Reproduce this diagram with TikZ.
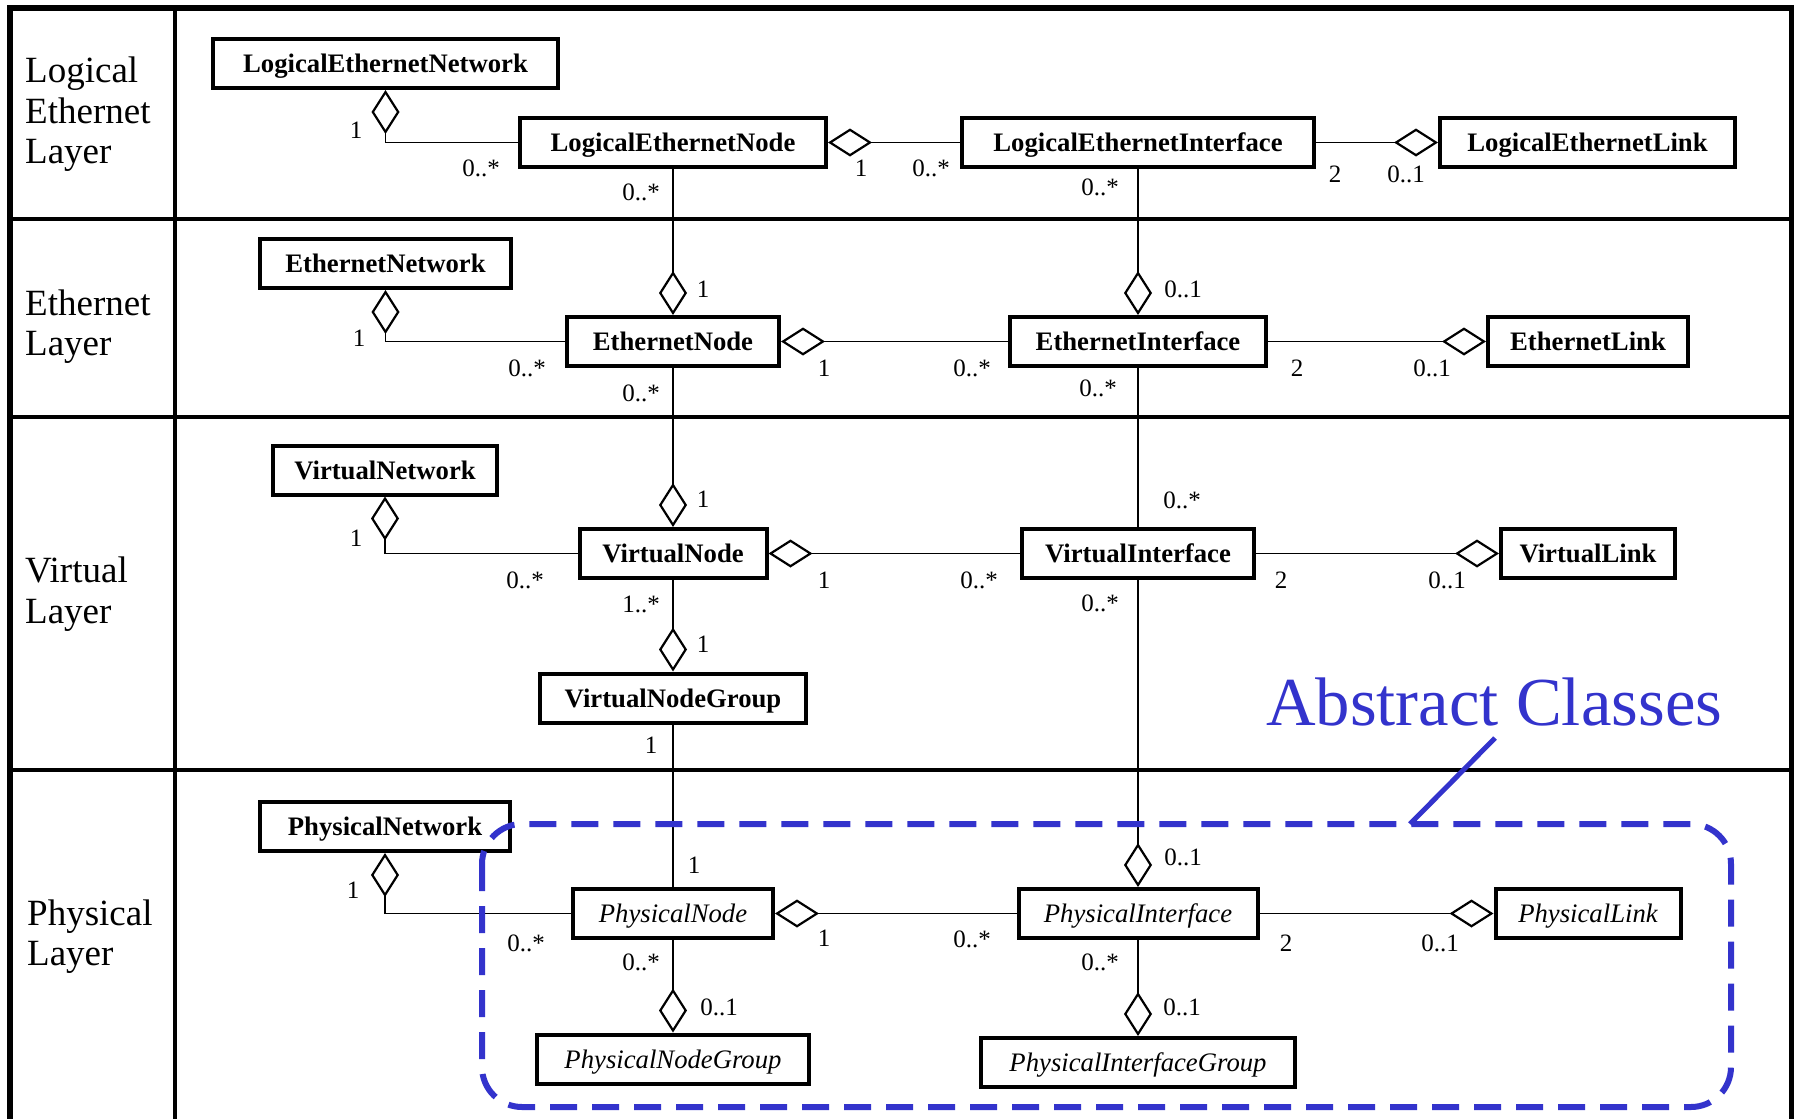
\documentclass[tikz,border=0pt]{standalone}
\usepackage{fontspec}
\setmainfont{Liberation Serif}
\usetikzlibrary{arrows.meta}
\definecolor{absblue}{RGB}{51,51,204}
\newcommand\clsfont{\fontsize{26.7}{30}\selectfont\bfseries}
\newcommand\absfont{\fontsize{26.7}{30}\selectfont\itshape}
\newcommand\multfont{\fontsize{25}{28}\selectfont}
\newcommand\layerfont{\fontsize{37}{41}\selectfont}
\begin{document}
\begin{tikzpicture}[x=1pt,y=-1pt,
  cls/.style={draw, line width=4pt, fill=white, minimum height=49pt, inner sep=0pt,
    text height=18pt, text depth=0pt, font=\clsfont},
  abscls/.style={cls, font=\absfont},
  mult/.style={font=\multfont, inner sep=0pt},
  layer/.style={font=\layerfont, anchor=base west, inner sep=0pt},
  frame/.style={line width=4pt},
  assoc/.style={line width=1.8pt},
  agg/.style={assoc, {Diamond[length=44pt,width=28pt,fill=white,line width=2.2pt]}-},
  abstractbox/.style={draw=absblue, line width=6pt, dash pattern=on 27pt off 15pt, rounded corners=40pt},
  pointer/.style={draw=absblue, line width=5pt}
]
\useasboundingbox (0,0) rectangle (1794,1119);

% table frame
\draw[line width=6pt] (7,8) -- (1794,8);
\draw[line width=6pt] (10,5) -- (10,1119);
\draw[line width=5pt] (1791,5) -- (1791,1119);
\draw[frame] (175,8) -- (175,1119);
\draw[frame] (10,219) -- (1791,219);
\draw[frame] (10,417) -- (1791,417);
\draw[frame] (10,770) -- (1791,770);

% layer names
\node[layer] (l1a) at (25,82) {Logical};
\node[layer] (l1b) at (25,123) {Ethernet};
\node[layer] (l1c) at (25,163) {Layer};
\node[layer] (l2a) at (25,315) {Ethernet};
\node[layer] (l2b) at (25,355) {Layer};
\node[layer] (l3a) at (25,582) {Virtual};
\node[layer] (l3b) at (25,623) {Layer};
\node[layer] (l4a) at (27,925) {Physical};
\node[layer] (l4b) at (27,965) {Layer};

% logical ethernet layer
\node[cls, minimum width=345pt] (len) at (385.5,63.5) {LogicalEthernetNetwork};
\node[cls, minimum width=306pt] (lenode) at (673,142.5) {LogicalEthernetNode};
\node[cls, minimum width=352pt] (leif) at (1138,142.5) {LogicalEthernetInterface};
\node[cls, minimum width=295pt] (lelink) at (1587.5,142.5) {LogicalEthernetLink};

% ethernet layer
\node[cls, minimum width=251pt] (en) at (385.5,263.5) {EthernetNetwork};
\node[cls, minimum width=212pt] (enode) at (673,341.5) {EthernetNode};
\node[cls, minimum width=256pt] (eif) at (1138,341.5) {EthernetInterface};
\node[cls, minimum width=200pt] (elink) at (1588,341.5) {EthernetLink};

% virtual layer
\node[cls, minimum width=224pt] (vn) at (385,470) {VirtualNetwork};
\node[cls, minimum width=187pt] (vnode) at (673,553.5) {VirtualNode};
\node[cls, minimum width=232pt] (vif) at (1138,553.5) {VirtualInterface};
\node[cls, minimum width=174pt] (vlink) at (1588,553.5) {VirtualLink};
\node[cls, minimum width=266pt] (vng) at (673,698) {VirtualNodeGroup};

% physical layer
\node[cls, minimum width=250pt] (pn) at (385,826.5) {PhysicalNetwork};
\node[abscls, minimum width=200pt] (pnode) at (673,913.5) {PhysicalNode};
\node[abscls, minimum width=239pt] (pif) at (1138,913.5) {PhysicalInterface};
\node[abscls, minimum width=185pt] (plink) at (1588,913.5) {PhysicalLink};
\node[abscls, minimum width=272pt] (png) at (673,1059) {PhysicalNodeGroup};
\node[abscls, minimum width=314pt] (pig) at (1138,1062.5) {PhysicalInterfaceGroup};

% associations
\draw[agg] (len.south) |- (lenode.west);
\draw[agg] (lenode.east) -- (leif.west);
\draw[agg] (lelink.west) -- (leif.east);
\draw[agg] (enode.north) -- (lenode.south);
\draw[agg] (eif.north) -- (leif.south);

\draw[agg] (en.south) |- (enode.west);
\draw[agg] (enode.east) -- (eif.west);
\draw[agg] (elink.west) -- (eif.east);
\draw[agg] (vnode.north) -- (enode.south);
\draw[assoc] (eif.south) -- (vif.north);

\draw[agg] (vn.south) |- (vnode.west);
\draw[agg] (vnode.east) -- (vif.west);
\draw[agg] (vlink.west) -- (vif.east);
\draw[agg] (vng.north) -- (vnode.south);
\draw[assoc] (vng.south) -- (pnode.north);
\draw[agg] (pif.north) -- (vif.south);

\draw[agg] (pn.south) |- (pnode.west);
\draw[agg] (pnode.east) -- (pif.west);
\draw[agg] (plink.west) -- (pif.east);
\draw[agg] (png.north) -- (pnode.south);
\draw[agg] (pig.north) -- (pif.south);

% multiplicities
\node[mult] (m01) at (356,130) {1};
\node[mult] (m02) at (481,168) {0..*};
\node[mult] (m03) at (641,192) {0..*};
\node[mult] (m04) at (861,168) {1};
\node[mult] (m05) at (931,168) {0..*};
\node[mult] (m06) at (1100,187) {0..*};
\node[mult] (m07) at (1335,174) {2};
\node[mult] (m08) at (1406,174) {0..1};
\node[mult] (m09) at (703,289) {1};
\node[mult] (m10) at (1183,289) {0..1};

\node[mult] (m11) at (359,338) {1};
\node[mult] (m12) at (527,368) {0..*};
\node[mult] (m13) at (824,368) {1};
\node[mult] (m14) at (972,368) {0..*};
\node[mult] (m15) at (641,393) {0..*};
\node[mult] (m16) at (1098,388) {0..*};
\node[mult] (m17) at (1297,368) {2};
\node[mult] (m18) at (1432,368) {0..1};
\node[mult] (m19) at (703,499) {1};
\node[mult] (m20) at (1182,500) {0..*};

\node[mult] (m21) at (356,538) {1};
\node[mult] (m22) at (525,580) {0..*};
\node[mult] (m23) at (824,580) {1};
\node[mult] (m24) at (979,580) {0..*};
\node[mult] (m25) at (1281,580) {2};
\node[mult] (m26) at (1447,580) {0..1};
\node[mult] (m27) at (1100,603) {0..*};
\node[mult] (m28) at (641,604) {1..*};
\node[mult] (m29) at (703,644) {1};
\node[mult] (m30) at (651,745) {1};
\node[mult] (m31) at (694,865) {1};
\node[mult] (m32) at (1183,857) {0..1};

\node[mult] (m33) at (353,890) {1};
\node[mult] (m34) at (526,943) {0..*};
\node[mult] (m35) at (824,938) {1};
\node[mult] (m36) at (972,939) {0..*};
\node[mult] (m37) at (1286,943) {2};
\node[mult] (m38) at (1440,943) {0..1};
\node[mult] (m39) at (641,962) {0..*};
\node[mult] (m40) at (719,1007) {0..1};
\node[mult] (m41) at (1100,962) {0..*};
\node[mult] (m42) at (1182,1007) {0..1};

% abstract classes group
\draw[abstractbox] (482,824) rectangle (1731,1107);
\node[font=\fontsize{68.7}{75}\selectfont, text=absblue, anchor=base west, inner sep=0pt] (abstitle) at (1266,725) {Abstract Classes};
\coordinate (ptrtop) at (1495,738);
\coordinate (ptrbot) at (1410,824);
\draw[pointer] (ptrtop) -- (ptrbot);
\end{tikzpicture}
\end{document}
